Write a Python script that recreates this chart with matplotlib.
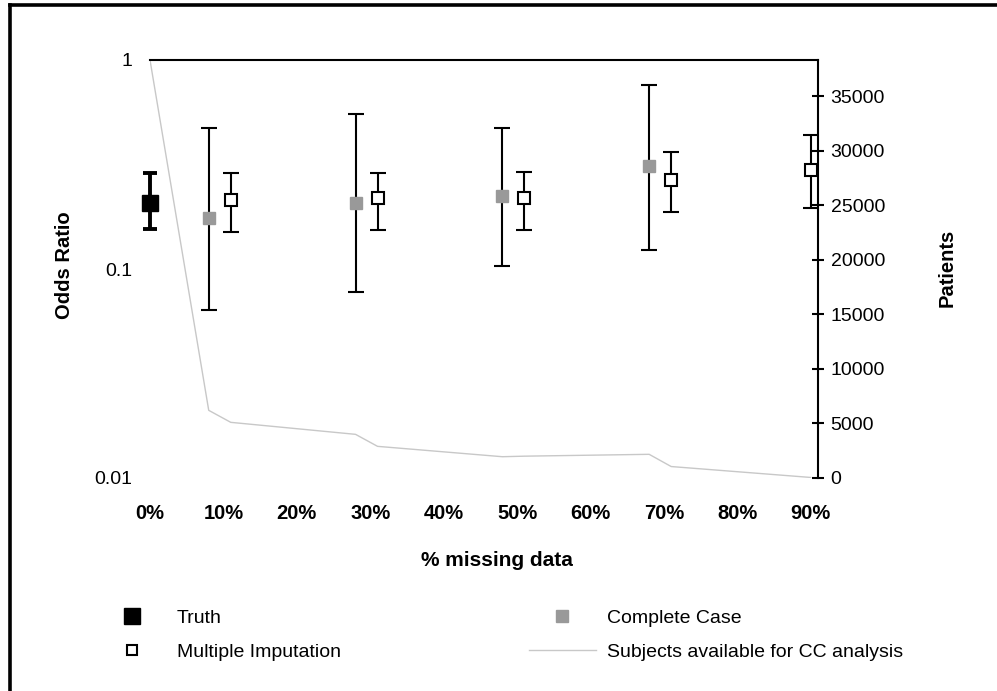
import matplotlib.pyplot as plt
from matplotlib.lines import Line2D

plt.rcParams['font.family'] = ['Liberation Sans', 'DejaVu Sans']

# ================================
# data
# ================================
pct_ticks = [0, 10, 20, 30, 40, 50, 60, 70, 80, 90]
pct_labels = ["0%", "10%", "20%", "30%", "40%", "50%", "60%", "70%", "80%", "90%"]

truth_x = [0]
truth_or = [0.208]
truth_lo = [0.155]
truth_hi = [0.289]

cc_x = [8, 28, 48, 68]
cc_or = [0.176, 0.208, 0.224, 0.311]
cc_lo = [0.0634, 0.0774, 0.103, 0.123]
cc_hi = [0.471, 0.550, 0.471, 0.762]

mi_x = [11, 31, 51, 71, 90]
mi_or = [0.214, 0.218, 0.219, 0.267, 0.298]
mi_lo = [0.150, 0.153, 0.154, 0.187, 0.196]
mi_hi = [0.289, 0.289, 0.290, 0.363, 0.439]

pat_x = [0, 8, 11, 28, 31, 48, 51, 68, 71, 90]
pat_n = [38300, 6200, 5100, 4000, 2900, 1950, 2000, 2170, 1050, 50]

patient_ticks = [0, 5000, 10000, 15000, 20000, 25000, 30000, 35000]


def err(vals, lo, hi):
    return [[v - l for v, l in zip(vals, lo)], [h - v for v, h in zip(vals, hi)]]


# ================================
# figure
# ================================
fig = plt.figure(figsize=(9.97, 6.91), dpi=100)
ax = fig.add_axes([150 / 997, 1 - 478 / 691, 668 / 997, 418 / 691])
ax2 = ax.twinx()
ax.set_zorder(ax2.get_zorder() + 1)
ax.patch.set_visible(False)

# patients line (right axis)
ax2.plot(pat_x, pat_n, color="#c8c8c8", lw=1.0)
ax2.set_ylim(0, 38300)
ax2.set_yticks(patient_ticks)
ax2.set_yticklabels([str(t) for t in patient_ticks], fontsize=14)
ax2.tick_params(axis="y", direction="inout", length=8, width=1.5, pad=5)
for s in ["left", "bottom"]:
    ax2.spines[s].set_visible(False)
ax2.spines["right"].set_linewidth(1.5)
ax2.spines["top"].set_linewidth(1.5)

# odds ratios (left axis, log)
ax.errorbar(truth_x, truth_or, yerr=err(truth_or, truth_lo, truth_hi), fmt="s",
            color="black", ms=11.5, elinewidth=2.8, capsize=5, capthick=2.8,
            clip_on=False)
ax.errorbar(cc_x, cc_or, yerr=err(cc_or, cc_lo, cc_hi), fmt="none",
            ecolor="black", elinewidth=1.5, capsize=5.5, capthick=1.5)
ax.plot(cc_x, cc_or, "s", color="#999999", ms=8.5, zorder=3)
ax.errorbar(mi_x, mi_or, yerr=err(mi_or, mi_lo, mi_hi), fmt="s",
            mfc="white", mec="black", mew=1.5, ms=8, color="black",
            elinewidth=1.5, capsize=5.5, capthick=1.5, clip_on=False)

ax.set_yscale("log")
ax.set_ylim(0.01, 1)
ax.set_xlim(0, 91)
ax.set_yticks([0.01, 0.1, 1])
ax.set_yticklabels(["0.01", "0.1", "1"], fontsize=14)
ax.minorticks_off()
ax.set_xticks(pct_ticks)
ax.set_xticklabels(pct_labels, fontsize=14.5, fontweight="bold")
ax.tick_params(axis="y", length=0, pad=13)
ax.tick_params(axis="x", length=0, pad=19)
for s in ax.spines.values():
    s.set_visible(False)

fig.text(65 / 997, 1 - 265 / 691, "Odds Ratio", rotation=90, fontsize=14.5,
         fontweight="bold", ha="center", va="center")
fig.text(947 / 997, 1 - 268 / 691, "Patients", rotation=90, fontsize=14.5,
         fontweight="bold", ha="center", va="center")
fig.text(497 / 997, 1 - 561 / 691, "% missing data", fontsize=15,
         fontweight="bold", ha="center", va="center")

# legend
handles = [
    Line2D([], [], ls="none", marker="s", color="black", ms=11.5),
    Line2D([], [], ls="none", marker="s", mfc="white", mec="black", mew=1.5, ms=7.5),
    Line2D([], [], ls="none", marker="s", color="#999999", ms=8.5),
    Line2D([], [], color="#c8c8c8", lw=1.0),
]
labels = ["Truth", "Multiple Imputation", "Complete Case",
          "Subjects available for CC analysis"]
fig.legend(handles, labels, loc="upper left", ncol=2,
           bbox_to_anchor=(99 / 997, 1 - 609 / 691), bbox_transform=fig.transFigure,
           frameon=False, fontsize=14, handlelength=3.4, handletextpad=0.6,
           columnspacing=9.7, labelspacing=0.85, borderpad=0, borderaxespad=0)

# outer frame (left and top edges only)
fig.add_artist(Line2D([10 / 997, 10 / 997], [0, 1 - 5 / 691], color="black", lw=2.6,
                      transform=fig.transFigure))
fig.add_artist(Line2D([10 / 997, 1], [1 - 5 / 691, 1 - 5 / 691], color="black", lw=2.6,
                      transform=fig.transFigure))

fig.savefig("out.png", dpi=100)
